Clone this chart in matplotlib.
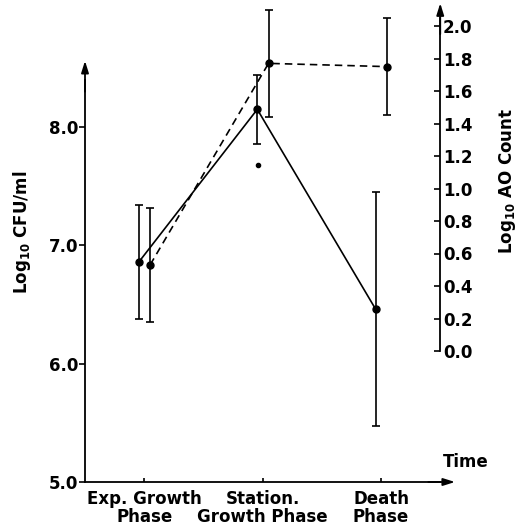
import matplotlib
matplotlib.use("Agg")
import matplotlib.pyplot as plt
import numpy as np

plt.rcParams['font.family'] = ['DejaVu Sans']
plt.rcParams['font.weight'] = 'bold'
plt.rcParams['mathtext.fontset'] = 'custom'
plt.rcParams['mathtext.rm'] = 'DejaVu Sans:bold'
plt.rcParams['mathtext.bf'] = 'DejaVu Sans:bold'
plt.rcParams['mathtext.default'] = 'bf'

# ---- data ----
categories = ["Exp. Growth\nPhase", "Station.\nGrowth Phase", "Death\nPhase"]
cfu_mean = [6.86, 8.15, 6.46]
cfu_err = [0.48, 0.29, 0.99]
ao_mean = [0.53, 1.77, 1.75]
ao_err = [0.35, 0.33, 0.30]
stray_cat = 1
stray_cfu = 7.68
left_ticks = [5.0, 6.0, 7.0, 8.0]
right_ticks = [0.0, 0.2, 0.4, 0.6, 0.8, 1.0, 1.2, 1.4, 1.6, 1.8, 2.0]

W, H = 525, 530
fig = plt.figure(figsize=(W / 100, H / 100), dpi=100)
ax = fig.add_axes([85 / W, (H - 482) / H, (458 - 85) / W, (482 - 5) / H])
ax.patch.set_alpha(0)

x = np.arange(len(categories))
xs = x - 0.045
xd = x + 0.05

ax.set_xlim(-0.5, 2.65)
ax.set_ylim(5.0, 5.0 + 477 / 118.3)

lw = 1.2
ax.errorbar(xs, cfu_mean, yerr=cfu_err, fmt='o-', color='black', lw=lw,
            elinewidth=lw, capsize=3.2, capthick=lw, ms=5, clip_on=False, zorder=3)
ax.plot([stray_cat - 0.035], [stray_cfu], 'o', color='black', ms=3)

ax2 = ax.twinx()
ax2.set_ylim(-(482 - 351) / 162.5, (351 - 5) / 162.5)
ax2.errorbar(xd, ao_mean, yerr=ao_err, fmt='o', color='black', lw=lw,
             elinewidth=lw, capsize=3.2, capthick=lw, ms=5, clip_on=False, zorder=3)
ax2.plot(xd, ao_mean, '--', color='black', lw=lw, dashes=(4.5, 3), clip_on=False)

# spines
for s in ['top', 'right']:
    ax.spines[s].set_visible(False)
for s in ['top', 'left', 'bottom']:
    ax2.spines[s].set_visible(False)
ax.spines['left'].set_bounds(5.0, 8.4)
ax.spines['bottom'].set_bounds(-0.5, 2.5)
ax2.spines['right'].set_position(('data', 2.5))
ax2.spines['right'].set_bounds(0.0, 2.05)
for sp in [ax.spines['left'], ax.spines['bottom'], ax2.spines['right']]:
    sp.set_linewidth(1.3)

arrow = dict(arrowstyle='-|>,head_length=0.7,head_width=0.22', color='black', lw=1.3,
             shrinkA=0, shrinkB=0)
ax.annotate('', xy=(-0.5, 8.56), xytext=(-0.5, 8.3), arrowprops=arrow, annotation_clip=False)
ax.annotate('', xy=(2.625, 5.0), xytext=(2.4, 5.0), arrowprops=arrow, annotation_clip=False)
ax2.annotate('', xy=(2.5, 2.14), xytext=(2.5, 1.95), arrowprops=arrow, annotation_clip=False)

# ticks
fs = 12
ax.set_yticks(left_ticks)
ax.set_yticklabels([f"{v:.1f}" for v in left_ticks], fontsize=fs, fontweight='bold')
ax.tick_params(axis='y', direction='out', length=4, width=1.2, pad=1)
ax.set_xticks(x)
ax.set_xticklabels(categories, fontsize=fs, fontweight='bold', linespacing=1.0)
ax.tick_params(axis='x', direction='in', length=3, width=1.2, pad=6)

ax2.set_yticks(right_ticks)
ax2.set_yticklabels([f"{v:.1f}" for v in right_ticks], fontsize=fs, fontweight='bold')
ax2.tick_params(axis='y', direction='in', length=4, width=1.2, pad=2)

fig.text(22 / W, 1 - 232 / H, 'Log$_{10}$ CFU/ml', rotation=90, ha='center', va='center',
         fontsize=fs, fontweight='bold')
fig.text(508 / W, 1 - 181 / H, 'Log$_{10}$ AO Count', rotation=90, ha='center', va='center',
         fontsize=fs, fontweight='bold')
fig.text(466 / W, 1 - 462 / H, 'Time', ha='center', va='center', fontsize=fs, fontweight='bold')

fig.savefig('out.png', dpi=100)
